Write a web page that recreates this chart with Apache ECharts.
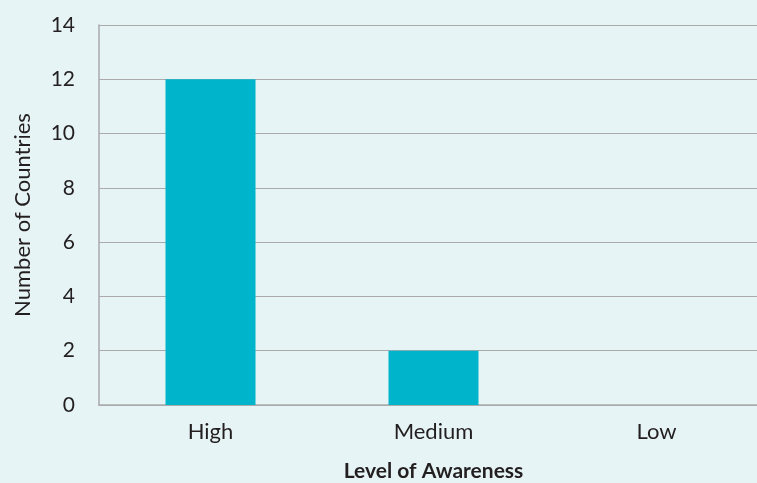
<!DOCTYPE html>
<html>
<head>
<meta charset="utf-8">
<script src="https://cdn.jsdelivr.net/npm/echarts@6/dist/echarts.min.js"></script>
<style>
  html, body { margin: 0; padding: 0; background: #e7f4f5; }
  #main { width: 757px; height: 483px; }
</style>
</head>
<body>
<div id="main"></div>
<script>
const categories = ['High', 'Medium', 'Low'];
const countries = [12, 2, 0];
const yTicks = [0, 2, 4, 6, 8, 10, 12, 14];

const myChart = echarts.init(document.getElementById('main'));

const option = {
    backgroundColor: '#e7f4f5',
    textStyle: { fontFamily: 'Lato' },
    grid: {
        left: 99,
        right: -11,
        top: 25,
        bottom: 78,
        containLabel: false,
        outerBoundsMode: 'none'
    },
    xAxis: {
        type: 'category',
        data: categories,
        name: 'Level of Awareness',
        nameLocation: 'middle',
        nameGap: 56,
        nameTextStyle: { fontSize: 21, fontWeight: 'bold', color: '#231f20', fontFamily: 'Lato' },
        axisLine: { lineStyle: { color: '#aaaaaa', width: 1.5 } },
        axisTick: { show: false },
        axisLabel: { fontSize: 22, color: '#231f20', margin: 16 }
    },
    yAxis: {
        type: 'value',
        min: 0,
        max: yTicks[yTicks.length - 1],
        interval: 2,
        name: 'Number of Countries',
        nameLocation: 'middle',
        nameGap: 65,
        nameTextStyle: { fontSize: 22, color: '#231f20', fontFamily: 'Lato' },
        axisLine: { show: true, lineStyle: { color: '#aaaaaa', width: 1.5 } },
        axisTick: { show: false },
        axisLabel: { fontSize: 21, color: '#231f20', margin: 24 },
        splitLine: { lineStyle: { color: '#aaaaaa', width: 1.2 } }
    },
    series: [
        {
            type: 'bar',
            data: countries,
            barWidth: 90,
            itemStyle: { color: '#00b5cb' }
        }
    ]
};
myChart.setOption(option);
</script>
</body>
</html>
